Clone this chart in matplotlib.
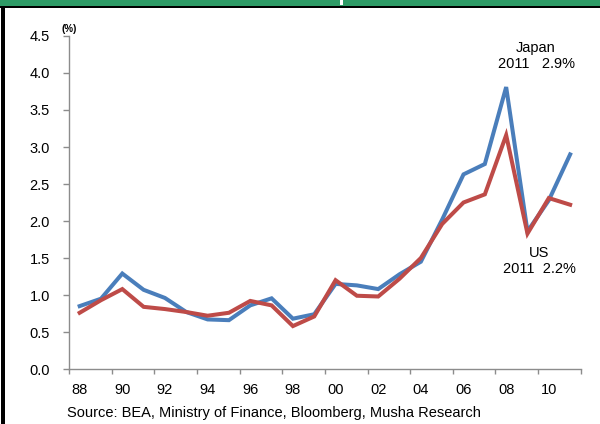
import numpy as np
import matplotlib.pyplot as plt
from matplotlib.patches import Rectangle

plt.rcParams['font.family'] = ['Liberation Sans', 'DejaVu Sans']

years = ['88', '89', '90', '91', '92', '93', '94', '95', '96', '97', '98', '99',
         '00', '01', '02', '03', '04', '05', '06', '07', '08', '09', '10', '11']
japan = [0.85, 0.95, 1.29, 1.07, 0.96, 0.77, 0.67, 0.66, 0.86, 0.955, 0.68, 0.74,
         1.15, 1.13, 1.08, 1.28, 1.45, 2.02, 2.63, 2.77, 3.81, 1.86, 2.28, 2.9]
us = [0.76, 0.93, 1.08, 0.84, 0.81, 0.77, 0.72, 0.76, 0.92, 0.86, 0.58, 0.71,
      1.2, 0.99, 0.98, 1.22, 1.5, 1.96, 2.25, 2.36, 3.16, 1.83, 2.31, 2.22]
y_ticks = [0.0, 0.5, 1.0, 1.5, 2.0, 2.5, 3.0, 3.5, 4.0, 4.5]

blue = '#4A7EBB'
red = '#BE4B48'
axis_grey = '#8C8C8C'

fig = plt.figure(figsize=(6.0, 4.24), dpi=100)
ax = fig.add_axes([0.115, 0.1297, 0.853, 0.7854])

x = np.arange(len(years))
ax.plot(x, japan, color=blue, lw=2.9, solid_joinstyle='miter', zorder=3)
ax.plot(x, us, color=red, lw=2.9, solid_joinstyle='miter', zorder=4)

ax.set_xlim(-0.5, len(years) - 0.5)
ax.set_ylim(0, 4.5)

# category axis: tick marks between every second year, labels on the year itself
ax.set_xticks(np.arange(-0.5, len(years), 2))
ax.set_xticklabels([])
ax.set_xticks(x[::2], minor=True)
ax.set_xticklabels(years[::2], minor=True)
ax.tick_params(axis='x', which='major', length=3.6, width=1, color=axis_grey, direction='out')
ax.tick_params(axis='x', which='minor', length=0, pad=10, labelsize=10.5)

ax.set_yticks(y_ticks)
ax.set_yticklabels(['%.1f' % v for v in y_ticks])
ax.tick_params(axis='y', length=4.3, width=1, color=axis_grey, direction='out', pad=9.4,
               labelsize=10.5)

for s in ['top', 'right']:
    ax.spines[s].set_visible(False)
for s in ['left', 'bottom']:
    ax.spines[s].set_color(axis_grey)
    ax.spines[s].set_linewidth(1)

ax.text(0.0, 1.005, '(%)', transform=ax.transAxes, ha='center', va='bottom',
        fontsize=7, fontweight='bold')

ax.annotate('Japan\n2011   %.1f%%' % japan[-1], xy=(21.4, 4.23), ha='center', va='center',
            fontsize=10.5, linespacing=1.2)
ax.annotate('US\n2011  %.1f%%' % us[-1], xy=(21.55, 1.46), ha='center', va='center',
            fontsize=10.5, linespacing=1.2)

fig.text(67 / 600, 1 - 413 / 424, 'Source: BEA, Ministry of Finance, Bloomberg, Musha Research',
         ha='left', va='center', fontsize=10.5)

# frame: green header band and black borders
fig.patches.append(Rectangle((0, 1 - 6 / 424), 1, 6 / 424, transform=fig.transFigure,
                             facecolor='#2E9B66', edgecolor='none'))
fig.patches.append(Rectangle((340 / 600, 1 - 5 / 424), 3 / 600, 5 / 424, transform=fig.transFigure,
                             facecolor='white', edgecolor='none'))
fig.patches.append(Rectangle((0, 1 - 8 / 424), 1, 2 / 424, transform=fig.transFigure,
                             facecolor='black', edgecolor='none'))
fig.patches.append(Rectangle((1 / 600, 0), 4 / 600, 1 - 6 / 424, transform=fig.transFigure,
                             facecolor='black', edgecolor='none'))

fig.savefig('out.png', dpi=100)
